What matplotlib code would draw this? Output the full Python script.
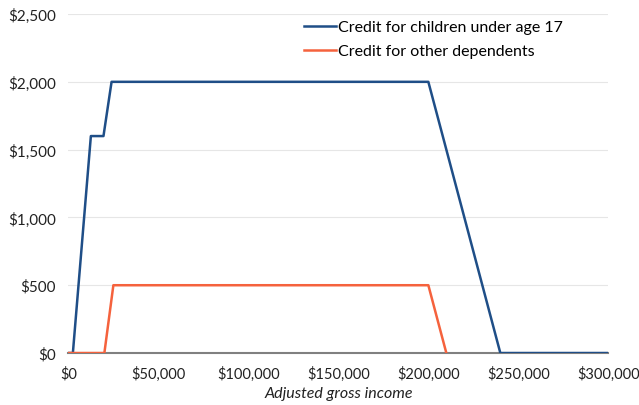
import matplotlib.pyplot as plt
from matplotlib.ticker import FuncFormatter

plt.rcParams['font.family'] = ['Lato', 'DejaVu Sans']

# data
children_x = [0, 2500, 12500, 19500, 24000, 200000, 240000, 300000]
children_y = [0, 0, 1600, 1600, 2000, 2000, 0, 0]
other_x = [0, 20000, 25000, 200000, 210000]
other_y = [0, 0, 500, 500, 0]

fig, ax = plt.subplots(figsize=(6.39, 4.06), dpi=100)
fig.subplots_adjust(left=0.107, right=0.952, top=0.963, bottom=0.128)

ax.plot(children_x, children_y, color='#1f4e87', lw=1.8, label='Credit for children under age 17', zorder=3)
ax.plot(other_x, other_y, color='#f5623d', lw=1.8, label='Credit for other dependents', zorder=3)

ax.set_xlim(0, 300000)
ax.set_ylim(0, 2500)
ax.set_xticks(range(0, 300001, 50000))
ax.set_yticks(range(0, 2501, 500))
money = FuncFormatter(lambda v, p: f'${v:,.0f}')
ax.xaxis.set_major_formatter(money)
ax.yaxis.set_major_formatter(money)

ax.grid(axis='y', color='#e6e6e6', lw=0.8)
ax.set_axisbelow(True)
for s in ['top', 'right', 'left']:
    ax.spines[s].set_visible(False)
ax.spines['bottom'].set_color('#808080')
ax.spines['bottom'].set_linewidth(1.5)
ax.tick_params(length=0, labelsize=11, colors='#222222', pad=9)
ax.tick_params(axis='x', labelsize=10.5, pad=9)

ax.set_xlabel('Adjusted gross income', style='italic', fontsize=11.5, color='#222222', labelpad=4)

ax.legend(loc='upper left', bbox_to_anchor=(0.41, 1.025), frameon=False, fontsize=11.5,
          handlelength=2.0, handletextpad=0.15, labelspacing=0.62)

fig.savefig('out.png')
